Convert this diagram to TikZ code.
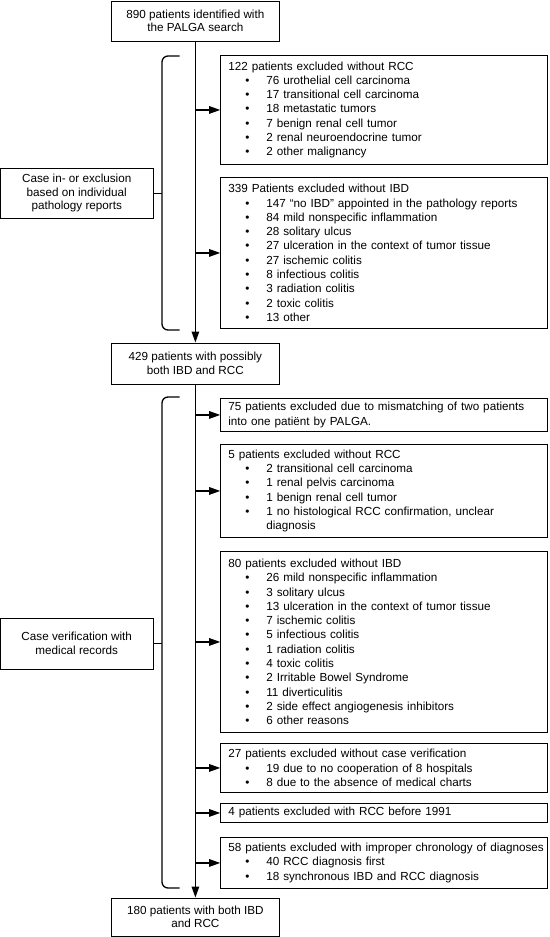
\documentclass[tikz,border=0pt]{standalone}
\usepackage{fontspec}
\setmainfont{Liberation Sans}
\usetikzlibrary{arrows.meta}
\newcommand{\itm}[1]{\par\noindent\hspace*{17pt}\makebox[21pt][l]{\textbullet}\parbox[t]{270pt}{\raggedright #1}}
\begin{document}
\begin{tikzpicture}[x=1pt,y=-1pt,
  box/.style={draw, line width=0.9pt, inner sep=0pt, font=\fontsize{11.7}{14.3}\selectfont},
  rbox/.style={box, anchor=north west, text width=319pt, inner xsep=3.9pt, align=left,
    execute at begin node={\leftskip=3.8pt\hyphenpenalty=10000\relax}},
  cbox/.style={box, align=center, font=\fontsize{11.7}{13.5}\selectfont},
  conn/.style={line width=1.3pt},
  thin/.style={line width=1pt},
  arr/.style={conn, -{Triangle[length=11pt,width=7.5pt]}},
  brk/.style={conn, rounded corners=6pt}]
\useasboundingbox (0,0) rectangle (549,937);

% central column
\node[cbox, minimum width=167.6pt, minimum height=40pt] (top) at (195.4,21) {890 patients identified with\\the PALGA search};
\node[cbox, minimum width=167.6pt, minimum height=41pt] (b429) at (195.4,363.5) {429 patients with possibly\\both IBD and RCC};
\node[cbox, minimum width=167.6pt, minimum height=38pt] (b180) at (195.4,917) {180 patients with both IBD\\and RCC};

% left boxes
\node[cbox, minimum width=152.5pt, minimum height=50pt] (case1) at (76.75,193) {Case in- or exclusion\\based on individual\\pathology reports};
\node[cbox, minimum width=152.5pt, minimum height=51pt] (case2) at (76.75,643.5) {Case verification with\\medical records};

% right boxes
\node[rbox, minimum height=109pt] (b122) at (220.2,55) {122 patients excluded without RCC
\itm{76 urothelial cell carcinoma}
\itm{17 transitional cell carcinoma}
\itm{18 metastatic tumors}
\itm{7 benign renal cell tumor}
\itm{2 renal neuroendocrine tumor}
\itm{2 other malignancy}};

\node[rbox, minimum height=151pt] (b339) at (220.2,177) {339 Patients excluded without IBD
\itm{147 “no IBD” appointed in the pathology reports}
\itm{84 mild nonspecific inflammation}
\itm{28 solitary ulcus}
\itm{27 ulceration in the context of tumor tissue}
\itm{27 ischemic colitis}
\itm{8 infectious colitis}
\itm{3 radiation colitis}
\itm{2 toxic colitis}
\itm{13 other}};

\node[rbox, minimum height=33pt] (b75) at (220.2,398) {75 patients excluded due to mismatching of two patients\\into one patiënt by PALGA.};

\node[rbox, minimum height=93pt] (b5) at (220.2,444) {5 patients excluded without RCC
\itm{2 transitional cell carcinoma}
\itm{1 renal pelvis carcinoma}
\itm{1 benign renal cell tumor}
\itm{1 no histological RCC confirmation, unclear\\diagnosis}};

\node[rbox, minimum height=181pt] (b80) at (220.2,551) {80 patients excluded without IBD
\itm{26 mild nonspecific inflammation}
\itm{3 solitary ulcus}
\itm{13 ulceration in the context of tumor tissue}
\itm{7 ischemic colitis}
\itm{5 infectious colitis}
\itm{1 radiation colitis}
\itm{4 toxic colitis}
\itm{2 Irritable Bowel Syndrome}
\itm{11 diverticulitis}
\itm{2 side effect angiogenesis inhibitors}
\itm{6 other reasons}};

\node[rbox, minimum height=49pt] (b27) at (220.2,743) {27 patients excluded without case verification
\itm{19 due to no cooperation of 8 hospitals}
\itm{8 due to the absence of medical charts}};

\node[rbox, minimum height=19pt] (b4) at (220.2,803) {4 patients excluded with RCC before 1991};

\node[rbox, minimum height=51pt] (b58) at (220.2,837) {\mbox{58 patients excluded with improper chronology of diagnoses}
\itm{40 RCC diagnosis first}
\itm{18 synchronous IBD and RCC diagnosis}};

% main flow
\draw[arr] (top.south) -- (b429.north);
\draw[arr] (b429.south) -- (b180.north);

% side arrows
\foreach \b in {b122,b339}
  \draw[arr] (top.south |- \b.west) -- (\b.west);
\foreach \b in {b75,b5,b80,b27,b4,b58}
  \draw[arr] (b429.south |- \b.west) -- (\b.west);

% brackets
\coordinate (br1t) at (179.6,56);
\coordinate (br1b) at (179.6,330);
\coordinate (k1) at (162,193);
\draw[brk] (br1t) -- (162,56) -- (162,330) -- (br1b);
\draw[thin] (case1.east) -- (k1);

\coordinate (br2t) at (179.6,397);
\coordinate (br2b) at (179.6,888);
\coordinate (k2) at (162,643.5);
\draw[brk] (br2t) -- (162,397) -- (162,888) -- (br2b);
\draw[thin] (case2.east) -- (k2);
\end{tikzpicture}
\end{document}
